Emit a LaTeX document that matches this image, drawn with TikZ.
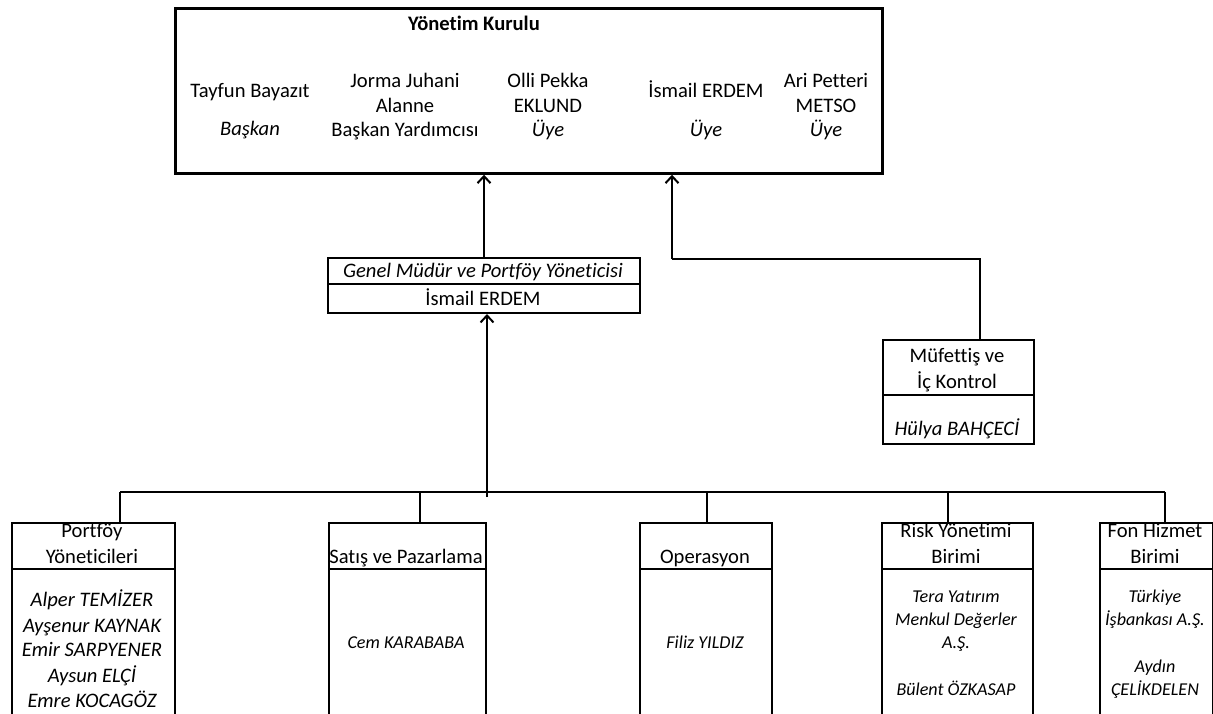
\documentclass[tikz,border=0pt]{standalone}
\usepackage{fontspec}
\setmainfont{Carlito}[Ligatures=NoCommon]
\usetikzlibrary{arrows.meta}
\begin{document}
\begin{tikzpicture}[x=1pt,y=-1pt,
  box/.style={draw, line width=2pt, inner sep=0pt, anchor=north west},
  txt/.style={anchor=base, inner sep=0pt, font=\fontsize{20.6}{24}\selectfont},
  itxt/.style={anchor=base, inner sep=0pt, font=\fontsize{20.6}{24}\selectfont\itshape},
  stxt/.style={anchor=base, inner sep=0pt, font=\fontsize{18.1}{21}\selectfont\itshape},
  btxt/.style={anchor=base, inner sep=0pt, font=\fontsize{20.6}{24}\selectfont\bfseries},
  conn/.style={line width=2.3pt},
  divl/.style={line width=2pt},
  arr/.style={line width=2pt, -{Straight Barb[length=7pt,width=13pt]}}]
\useasboundingbox (0,0) rectangle (1213,713);
\clip (0,0) rectangle (1213,713);
% Board
\node[box, line width=2.7pt, minimum width=707pt, minimum height=165pt] (board) at (174,7) {};
\node[btxt] (t0) at (474,30) {Yönetim Kurulu};
\node[txt] (c1a) at (250,97) {Tayfun Bayazıt};
\node[itxt] (c1b) at (250,135) {Başkan};
\node[txt] (c2a) at (405,87) {Jorma Juhani};
\node[txt] (c2b) at (405,112) {Alanne};
\node[txt] (c2c) at (405,136) {Başkan Yardımcısı};
\node[txt] (c3a) at (548,87) {Olli Pekka};
\node[txt] (c3b) at (548,112) {EKLUND};
\node[itxt] (c3c) at (548,136) {Üye};
\node[txt] (c4a) at (706,97) {İsmail ERDEM};
\node[itxt] (c4b) at (706,136) {Üye};
\node[txt] (c5a) at (826,87) {Ari Petteri};
\node[txt] (c5b) at (826,112) {METSO};
\node[itxt] (c5c) at (826,136) {Üye};
% General manager
\node[box, minimum width=312pt, minimum height=55pt] (gm) at (327,257) {};
\draw[divl] (327,284) -- (639,284);
\node[itxt] (gm1) at (483,277) {Genel Müdür ve Portföy Yöneticisi};
\node[txt] (gm2) at (483,305) {İsmail ERDEM};
% Inspector
\node[box, minimum width=151pt, minimum height=104pt] (muf) at (882,339) {};
\draw[divl] (882,395) -- (1033,395);
\node[txt] (muf1) at (957,362) {Müfettiş ve};
\node[txt] (muf2) at (957,388) {İç Kontrol};
\node[itxt] (muf3) at (957,435) {Hülya BAHÇECİ};
% Bottom boxes
\node[box, minimum width=163pt, minimum height=220pt] (pm) at (11,522) {};
\node[box, minimum width=157pt, minimum height=220pt] (sp) at (328,522) {};
\node[box, minimum width=132pt, minimum height=220pt] (op) at (639,522) {};
\node[box, minimum width=151pt, minimum height=220pt] (rk) at (881,522) {};
\node[box, minimum width=113pt, minimum height=220pt] (fh) at (1099,522) {};
\draw[divl] (11,569) -- (174,569);
\draw[divl] (328,569) -- (485,569);
\draw[divl] (639,569) -- (771,569);
\draw[divl] (881,569) -- (1032,569);
\draw[divl] (1099,569) -- (1212,569);
\node[txt] (pm1) at (92,537) {Portföy};
\node[txt] (pm2) at (92,563) {Yöneticileri};
\node[itxt] (pm3) at (92,606) {Alper TEMİZER};
\node[itxt] (pm4) at (92,632) {Ayşenur KAYNAK};
\node[itxt] (pm5) at (92,656) {Emir SARPYENER};
\node[itxt] (pm6) at (92,682) {Aysun ELÇİ};
\node[itxt] (pm7) at (92,707) {Emre KOCAGÖZ};
\node[txt] (sp1) at (406,563) {Satış ve Pazarlama};
\node[stxt] (sp2) at (406,648) {Cem KARABABA};
\node[txt] (op1) at (705,563) {Operasyon};
\node[stxt] (op2) at (705,648) {Filiz YILDIZ};
\node[txt] (rk1) at (956,537) {Risk Yönetimi};
\node[txt] (rk2) at (956,563) {Birimi};
\node[stxt] (rk3) at (956,602) {Tera Yatırım};
\node[stxt] (rk4) at (956,625) {Menkul Değerler};
\node[stxt] (rk5) at (956,648) {A.Ş.};
\node[stxt] (rk6) at (956,695) {Bülent ÖZKASAP};
\node[stxt] (fh1) at (1155,602) {Türkiye};
\node[stxt] (fh2) at (1155,625) {İşbankası A.Ş.};
\node[stxt] (fh3) at (1155,672) {Aydın};
\node[stxt] (fh4) at (1155,695) {ÇELİKDELEN};
\node[txt] (fh5) at (1155,537) {Fon Hizmet};
\node[txt] (fh6) at (1155,563) {Birimi};
% Connectors
\draw[arr] (gm.north) -- (gm.north |- board.south);
\coordinate (mt) at (980,339);
\coordinate (m1) at (672,259);
\draw[conn] (mt) |- (m1);
\draw[arr] (m1) -- (m1 |- board.south);
\coordinate (busL) at (120,492);
\coordinate (busR) at (1165,492);
\draw[conn] (busL) -- (busR);
\coordinate (d2) at (420,492);
\coordinate (d3) at (707,492);
\coordinate (d4) at (948,492);
\draw[conn] (busL) -- (busL |- pm.north);
\draw[conn] (d2) -- (d2 |- sp.north);
\draw[conn] (d3) -- (d3 |- op.north);
\draw[conn] (d4) -- (d4 |- rk.north);
\draw[conn] (busR) -- (busR |- fh.north);
\coordinate (bus0) at (487,497);
\draw[arr] (bus0) -- (bus0 |- gm.south);
\end{tikzpicture}
\end{document}
